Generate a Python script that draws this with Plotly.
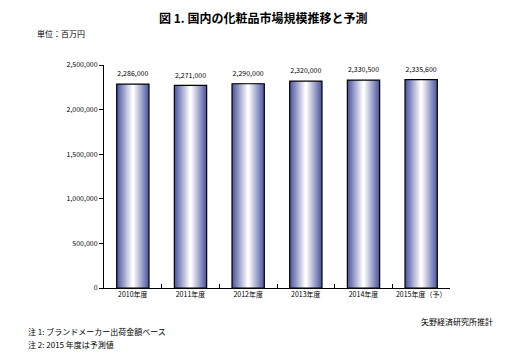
import plotly.graph_objects as go

categories = ["2010年度", "2011年度", "2012年度", "2013年度", "2014年度", "2015年度（予）"]
values = [2286000, 2271000, 2290000, 2320000, 2330500, 2335600]
value_labels = ["2,286,000", "2,271,000", "2,290,000", "2,320,000", "2,330,500", "2,335,600"]
y_ticks = [0, 500000, 1000000, 1500000, 2000000, 2500000]

FONT = "Noto Sans CJK JP"
edge = (80, 88, 162)
center = (255, 255, 255)
N = 14
bar_w = 0.56

fig = go.Figure()
for k in range(N):
    t = k / (N - 1)
    c = tuple(int(round(edge[i] + (center[i] - edge[i]) * t)) for i in range(3))
    w = bar_w * (1 - k / N)
    fig.add_trace(go.Bar(
        x=categories, y=values, width=[w] * len(values),
        marker=dict(color="rgb(%d,%d,%d)" % c, line=dict(width=0)),
        hoverinfo="skip", showlegend=False,
    ))
# outline on top
fig.add_trace(go.Bar(
    x=categories, y=values, width=[bar_w] * len(values),
    marker=dict(color="rgba(0,0,0,0)", line=dict(color="#000000", width=1.2)),
    hoverinfo="skip", showlegend=False,
))
fig.add_trace(go.Scatter(
    x=categories, y=values, mode="markers+text", text=value_labels,
    marker=dict(size=8, color="rgba(0,0,0,0)"),
    textposition="top center", textfont=dict(size=7, color="#000", family=FONT),
    showlegend=False, hoverinfo="skip", cliponaxis=False,
))

fig.update_layout(
    width=525, height=353,
    margin=dict(l=104, r=75, t=65, b=65),
    paper_bgcolor="white", plot_bgcolor="white",
    barmode="overlay",
    font=dict(family=FONT, color="#000"),
    showlegend=False,
)
fig.update_xaxes(
    type="category", showline=True, linecolor="#000", linewidth=1,
    ticks="inside", tickson="boundaries", ticklen=4, tickcolor="#000",
    tickangle=0, tickfont=dict(size=7, family=FONT), showgrid=False,
)
fig.update_yaxes(
    range=[0, 2500000], tickvals=y_ticks, tickformat=",",
    showline=True, linecolor="#000", linewidth=1,
    ticks="outside", ticklen=4, tickcolor="#000",
    tickfont=dict(size=7, family=FONT), showgrid=False, zeroline=False,
)

fig.add_annotation(text="<b>図 1. 国内の化粧品市場規模推移と予測</b>", xref="paper", yref="paper",
                   x=0.46, y=1.0, yshift=48, xanchor="center", yanchor="middle",
                   showarrow=False, font=dict(size=12, family=FONT))
fig.add_annotation(text="単位：百万円", xref="paper", yref="paper",
                   x=-0.2, y=1.0, yshift=32, xanchor="left", yanchor="middle",
                   showarrow=False, font=dict(size=8, family=FONT))
fig.add_annotation(text="矢野経済研究所推計", xref="paper", yref="paper",
                   x=1.13, y=0, yshift=-33, xanchor="right", yanchor="middle",
                   showarrow=False, font=dict(size=8, family=FONT))
fig.add_annotation(text="注 1: ブランドメーカー出荷金額ベース", xref="paper", yref="paper",
                   x=-0.225, y=0, yshift=-43, xanchor="left", yanchor="middle",
                   showarrow=False, font=dict(size=8, family=FONT))
fig.add_annotation(text="注 2: 2015 年度は予測値", xref="paper", yref="paper",
                   x=-0.225, y=0, yshift=-56, xanchor="left", yanchor="middle",
                   showarrow=False, font=dict(size=8, family=FONT))

fig.write_html("out.html")
